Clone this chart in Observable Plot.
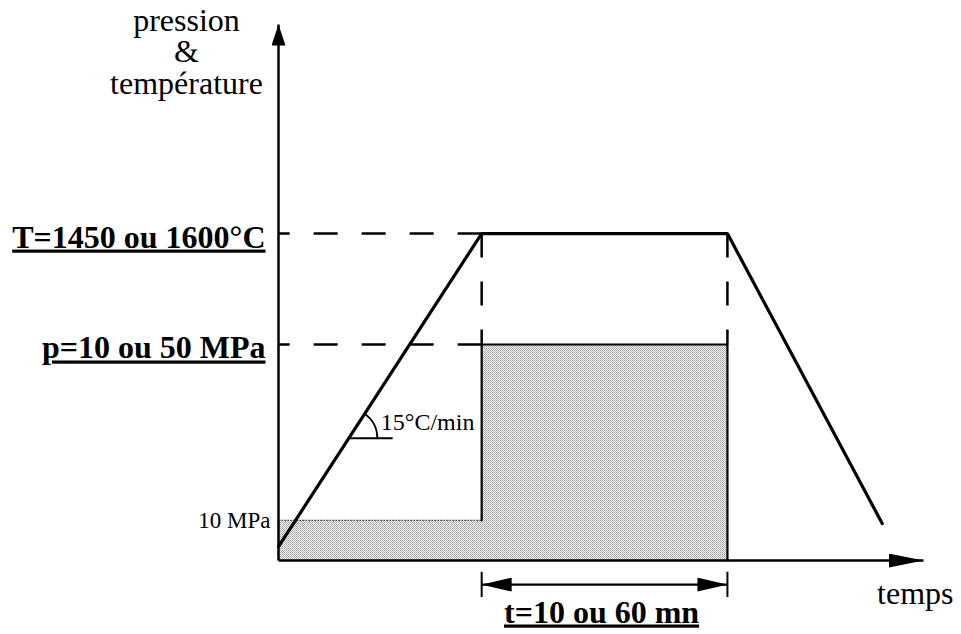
<!DOCTYPE html>
<html>
<head>
<meta charset="utf-8">
<script src="https://cdn.jsdelivr.net/npm/d3@7"></script>
<script src="https://cdn.jsdelivr.net/npm/@observablehq/plot@0.6"></script>
<style>
  html, body { margin: 0; padding: 0; background: white; }
  #chart { width: 961px; height: 634px; }
</style>
</head>
<body>
<div id="chart"></div>
<script>
// ---- data (arbitrary units: time 0..100, level 0..100) ----
const time = [0, 31.5, 69.6, 93.6];            // ramp start, plateau start, plateau end, cooling end
const temperature = [2.6, 61.0, 61.0, 6.9];     // temperature profile
const pressureTime = [0, 31.5, 69.6];           // pressure step times
const pressure = [7.5, 40.3, 40.3];             // 10 MPa, then p
const levelLabels = ["T=1450 ou 1600°C", "p=10 ou 50 MPa"];
const lowPressureLabel = "10 MPa";
const rateLabel = "15°C/min";
const durationLabel = "t=10 ou 60 mn";
const xAxisLabel = "temps";
const yAxisLabel = "pression\n&\ntempérature";
const rateAnchor = {x: 10.9, y: 22.8, xEnd: 17.7};
const dimensionLevel = -4.5;
const dimensionBar = [-2.2, -6.9];

const tempProfile = time.map((t, i) => ({t, v: temperature[i]}));
const pressureProfile = pressureTime.map((t, i) => ({t, v: pressure[i]}));
const pressureOutline = [
  {t: pressureTime[1], v: pressure[0]},
  {t: pressureTime[1], v: pressure[1]},
  {t: pressureTime[2], v: pressure[2]},
  {t: pressureTime[2], v: 0}
];
const levels = [
  {label: levelLabels[0], v: temperature[1]},
  {label: levelLabels[1], v: pressure[1]}
];

const serif = "Liberation Serif, Times New Roman, serif";

const plot = Plot.plot({
  width: 961,
  height: 634,
  marginLeft: 278,
  marginRight: 38,
  marginTop: 24,
  marginBottom: 74,
  x: {domain: [0, 100], axis: null},
  y: {domain: [0, 100], axis: null},
  style: {fontFamily: serif, background: "white", overflow: "visible", color: "black"},
  marks: [
    // shaded pressure area
    Plot.areaY(pressureProfile, {x: "t", y: "v", curve: "step-after", fill: "#d0d0d0", ariaDescription: "pressure-area"}),
    // dotted top of the 10 MPa step
    Plot.link([0], {x1: pressureTime[0], y1: pressure[0], x2: pressureTime[1], y2: pressure[0], stroke: "#333", strokeWidth: 1.3, strokeDasharray: "1.3,1.7"}),
    // solid outline of the p step
    Plot.line(pressureOutline, {x: "t", y: "v", stroke: "black", strokeWidth: 2.2}),
    // dashed guide lines (drawn from the profile back to the axis)
    Plot.link(levels, {x1: time[1], y1: "v", x2: 0, y2: "v", stroke: "black", strokeWidth: 2.5, strokeDasharray: "24,24"}),
    Plot.link([time[1], time[2]], {x1: d => d, y1: temperature[1], x2: d => d, y2: pressure[1], stroke: "black", strokeWidth: 2.5, strokeDasharray: "24,24"}),
    // temperature profile
    Plot.line(tempProfile, {x: "t", y: "v", stroke: "black", strokeWidth: 3.2, strokeLinejoin: "miter"}),
    // axes with arrows
    Plot.link([0], {x1: 0, y1: 0, x2: 0, y2: 100, stroke: "black", strokeWidth: 2.5, ariaDescription: "y-axis-arrow"}),
    Plot.link([0], {x1: 0, y1: 0, x2: 100, y2: 0, stroke: "black", strokeWidth: 2.5, ariaDescription: "x-axis-arrow"}),
    // duration dimension
    Plot.link([0], {x1: time[1], y1: dimensionLevel, x2: time[2], y2: dimensionLevel, stroke: "black", strokeWidth: 2.2, ariaDescription: "dimension-arrow"}),
    Plot.ruleX([time[1], time[2]], {y1: dimensionBar[0], y2: dimensionBar[1], stroke: "black", strokeWidth: 2}),
    // rate annotation reference line
    Plot.link([rateAnchor], {x1: "x", y1: "y", x2: "xEnd", y2: "y", stroke: "black", strokeWidth: 2}),
    // texts
    Plot.text(levels, {x: 0, y: "v", text: "label", textAnchor: "end", lineAnchor: "bottom", dx: -13, dy: 14, fontSize: 32, fontWeight: "bold", fill: "black", ariaDescription: "bold-labels"}),
    Plot.text([durationLabel], {x: (time[1] + time[2]) / 2, y: 0, text: d => d, textAnchor: "middle", lineAnchor: "bottom", dx: -3, dy: 62, fontSize: 32, fontWeight: "bold", fill: "black", ariaDescription: "bold-labels"}),
    Plot.text([lowPressureLabel], {x: 0, y: pressure[0], text: d => d, textAnchor: "end", lineAnchor: "bottom", dx: -8, dy: 8, fontSize: 23, fill: "black"}),
    Plot.text([rateLabel], {x: rateAnchor.x, y: rateAnchor.y, text: d => d, textAnchor: "start", lineAnchor: "bottom", dx: 32, dy: -8, fontSize: 24, fill: "black"}),
    Plot.text([xAxisLabel], {x: 100, y: 0, text: d => d, textAnchor: "end", lineAnchor: "bottom", dx: 30, dy: 43, fontSize: 32, fill: "black"}),
    Plot.text([yAxisLabel], {x: 0, y: 100, text: d => d, textAnchor: "middle", lineAnchor: "bottom", lineHeight: 0.97, dx: -92, dy: 69, fontSize: 32, fill: "black"})
  ]
});

document.getElementById("chart").appendChild(plot);

// ---- decorations using Plot's own scales ----
const svg = d3.select(plot);
const defs = svg.insert("defs", ":first-child");
const pat = defs.append("pattern").attr("id", "dots").attr("patternUnits", "userSpaceOnUse")
  .attr("width", 2).attr("height", 2);
pat.append("rect").attr("width", 2).attr("height", 2).attr("fill", "#efefef");
pat.append("rect").attr("x", 0).attr("y", 0).attr("width", 1).attr("height", 1).attr("fill", "#a9a9a9");
pat.append("rect").attr("x", 1).attr("y", 1).attr("width", 1).attr("height", 1).attr("fill", "#b8b8b8");

function addMarker(id, len, half) {
  defs.append("marker").attr("id", id)
    .attr("markerUnits", "userSpaceOnUse")
    .attr("viewBox", `0 ${-half} ${len} ${2 * half}`)
    .attr("refX", len).attr("refY", 0)
    .attr("markerWidth", len).attr("markerHeight", 2 * half)
    .attr("orient", "auto-start-reverse")
    .append("path").attr("d", `M0,${-half}L${len},0L0,${half}Z`).attr("fill", "black");
}
addMarker("headY", 21, 7);
addMarker("headX", 35, 7);
addMarker("headDim", 30, 7);
const byDesc = d => svg.selectAll(`g[aria-description="${d}"]`);
byDesc("pressure-area").attr("fill", "url(#dots)").selectAll("path").attr("fill", "url(#dots)");
byDesc("y-axis-arrow").selectAll("path").attr("marker-end", "url(#headY)");
byDesc("x-axis-arrow").selectAll("path").attr("marker-end", "url(#headX)");
byDesc("dimension-arrow").selectAll("path").attr("marker-start", "url(#headDim)").attr("marker-end", "url(#headDim)");
byDesc("bold-labels").selectAll("text")
  .style("text-decoration", "underline")
  .style("text-decoration-thickness", "2.5px")
  .style("text-underline-offset", "3px");

// angle arc for the heating rate
const xs = plot.scale("x"), ys = plot.scale("y");
const cx = xs.apply(rateAnchor.x), cy = ys.apply(rateAnchor.y);
const ang = Math.atan2(ys.apply(temperature[0]) - ys.apply(temperature[1]), xs.apply(time[1]) - xs.apply(time[0]));
const r = 29;
svg.append("path")
  .attr("d", `M${cx + r},${cy}A${r},${r} 0 0 0 ${cx + r * Math.cos(ang)},${cy - r * Math.sin(ang)}`)
  .attr("fill", "none").attr("stroke", "black").attr("stroke-width", 2);
</script>
</body>
</html>
